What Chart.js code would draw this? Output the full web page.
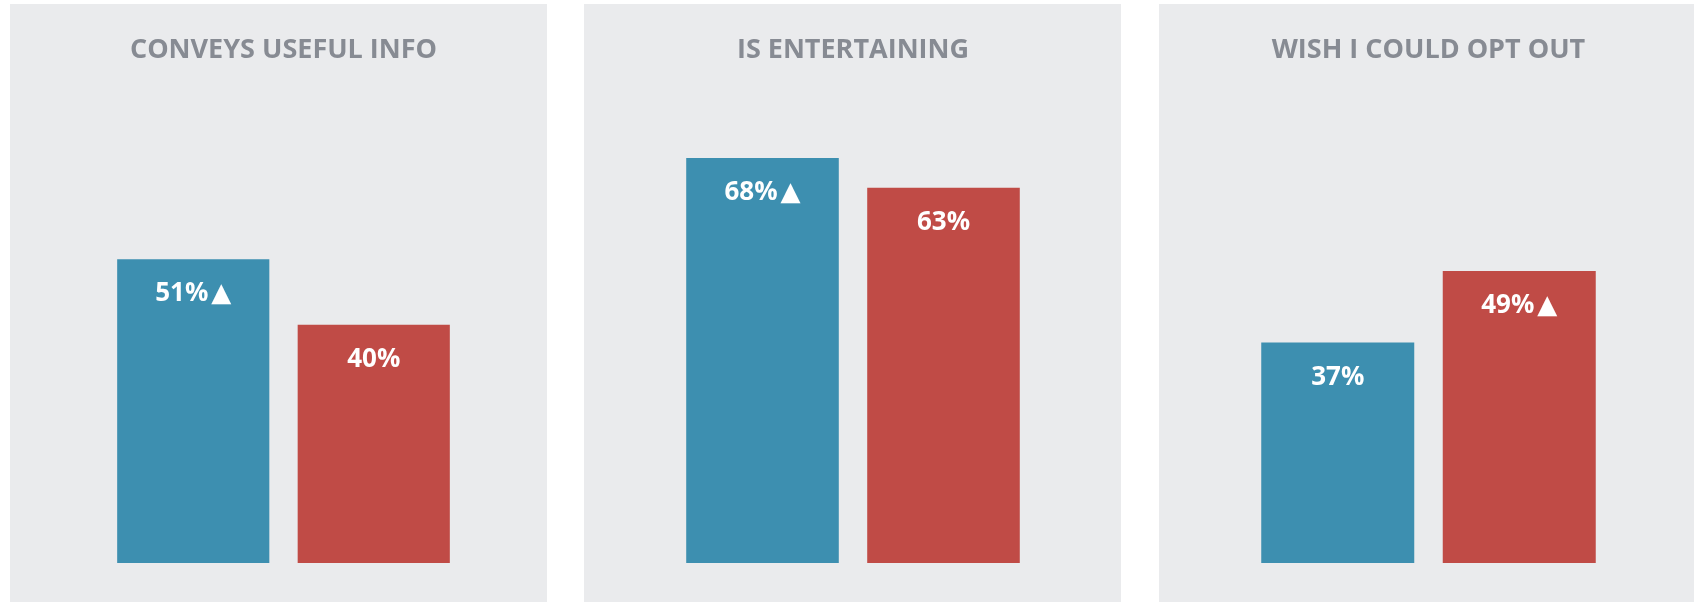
<!DOCTYPE html>
<html>
<head>
<meta charset="utf-8">
<title>Survey panels</title>
<script src="https://cdn.jsdelivr.net/npm/chart.js@4/dist/chart.umd.min.js"></script>
<style>
    html, body { margin: 0; padding: 0; background: #ffffff; overflow: hidden; }
    #main-content { position: relative; width: 1694px; height: 602px; overflow: hidden; }
    .content-item { position: absolute; top: 4px; width: 537px; height: 598px; background: #eaebed; }
</style>
</head>
<body>
<div id="main-content">
    <div class="content-item" style="left:10px"><canvas id="panel0" width="537" height="598"></canvas></div>
    <div class="content-item" style="left:584px"><canvas id="panel1" width="537" height="598"></canvas></div>
    <div class="content-item" style="left:1159px"><canvas id="panel2" width="537" height="598"></canvas></div>
</div>
<script>
// 每个面板的标题
var panelTitles = ["CONVEYS USEFUL INFO", "IS ENTERTAINING", "WISH I COULD OPT OUT"];
// 两组数据（百分比）
var blueValues = [51, 68, 37];
var redValues = [40, 63, 49];
// 是否在数值后面加上升箭头
var blueUp = [true, true, false];
var redUp = [false, false, true];
// 纵轴范围
var yMax = 80;

var blueColor = "#3d8fb0";
var redColor = "#c04b46";
var fontFamily = "'Open Sans', 'DejaVu Sans', sans-serif";
var labelFont = "bold 26px " + fontFamily;
var arrowFont = "26px 'DejaVu Sans', sans-serif";

// 每个面板的左右留白
var sidePadding = [
    { left: 93, right: 83 },
    { left: 88, right: 87 },
    { left: 88, right: 86 }
];

/**
 * 在柱子顶部内侧写上数值和箭头
 */
var barLabels = {
    id: "barLabels",
    afterDatasetsDraw: function (chart) {
        var ctx = chart.ctx;
        var meta = chart.getDatasetMeta(0);
        var values = chart.data.datasets[0].data;
        var ups = chart.options.plugins.barLabels.ups;
        ctx.save();
        ctx.fillStyle = "#ffffff";
        ctx.textBaseline = "alphabetic";
        ctx.textAlign = "left";
        meta.data.forEach(function (bar, i) {
            var text = values[i] + "%";
            ctx.font = labelFont;
            var w1 = ctx.measureText(text).width;
            var arrow = ups[i] ? "\u25B2" : "";
            ctx.font = arrowFont;
            var w2 = arrow ? ctx.measureText(arrow).width + 3 : 0;
            var x = bar.x - (w1 + w2) / 2;
            var y = bar.y + 42;
            ctx.font = labelFont;
            ctx.fillText(text, x, y);
            if (arrow) {
                ctx.font = arrowFont;
                ctx.fillText(arrow, x + w1 + 3, y);
            }
        });
        ctx.restore();
    }
};

for (var i = 0; i < panelTitles.length; i++) {
    addPanel(i);
}

function addPanel(i) {
    var ctx = document.getElementById("panel" + i).getContext("2d");
    new Chart(ctx, {
        type: "bar",
        data: {
            labels: ["", ""],
            datasets: [{
                data: [blueValues[i], redValues[i]],
                backgroundColor: [blueColor, redColor],
                borderWidth: 0,
                barPercentage: 1,
                categoryPercentage: 0.843
            }]
        },
        options: {
            responsive: false,
            animation: false,
            events: [],
            layout: {
                padding: { top: 0, bottom: 39, left: sidePadding[i].left, right: sidePadding[i].right }
            },
            scales: {
                x: { display: false },
                y: { display: false, min: 0, max: yMax }
            },
            plugins: {
                legend: { display: false },
                tooltip: { enabled: false },
                title: {
                    display: true,
                    text: panelTitles[i],
                    color: "#878b93",
                    font: { family: fontFamily, size: 27, weight: "bold" },
                    padding: { top: 30, bottom: 20 }
                },
                barLabels: { ups: [blueUp[i], redUp[i]] }
            }
        },
        plugins: [barLabels]
    });
}
</script>
</body>
</html>
